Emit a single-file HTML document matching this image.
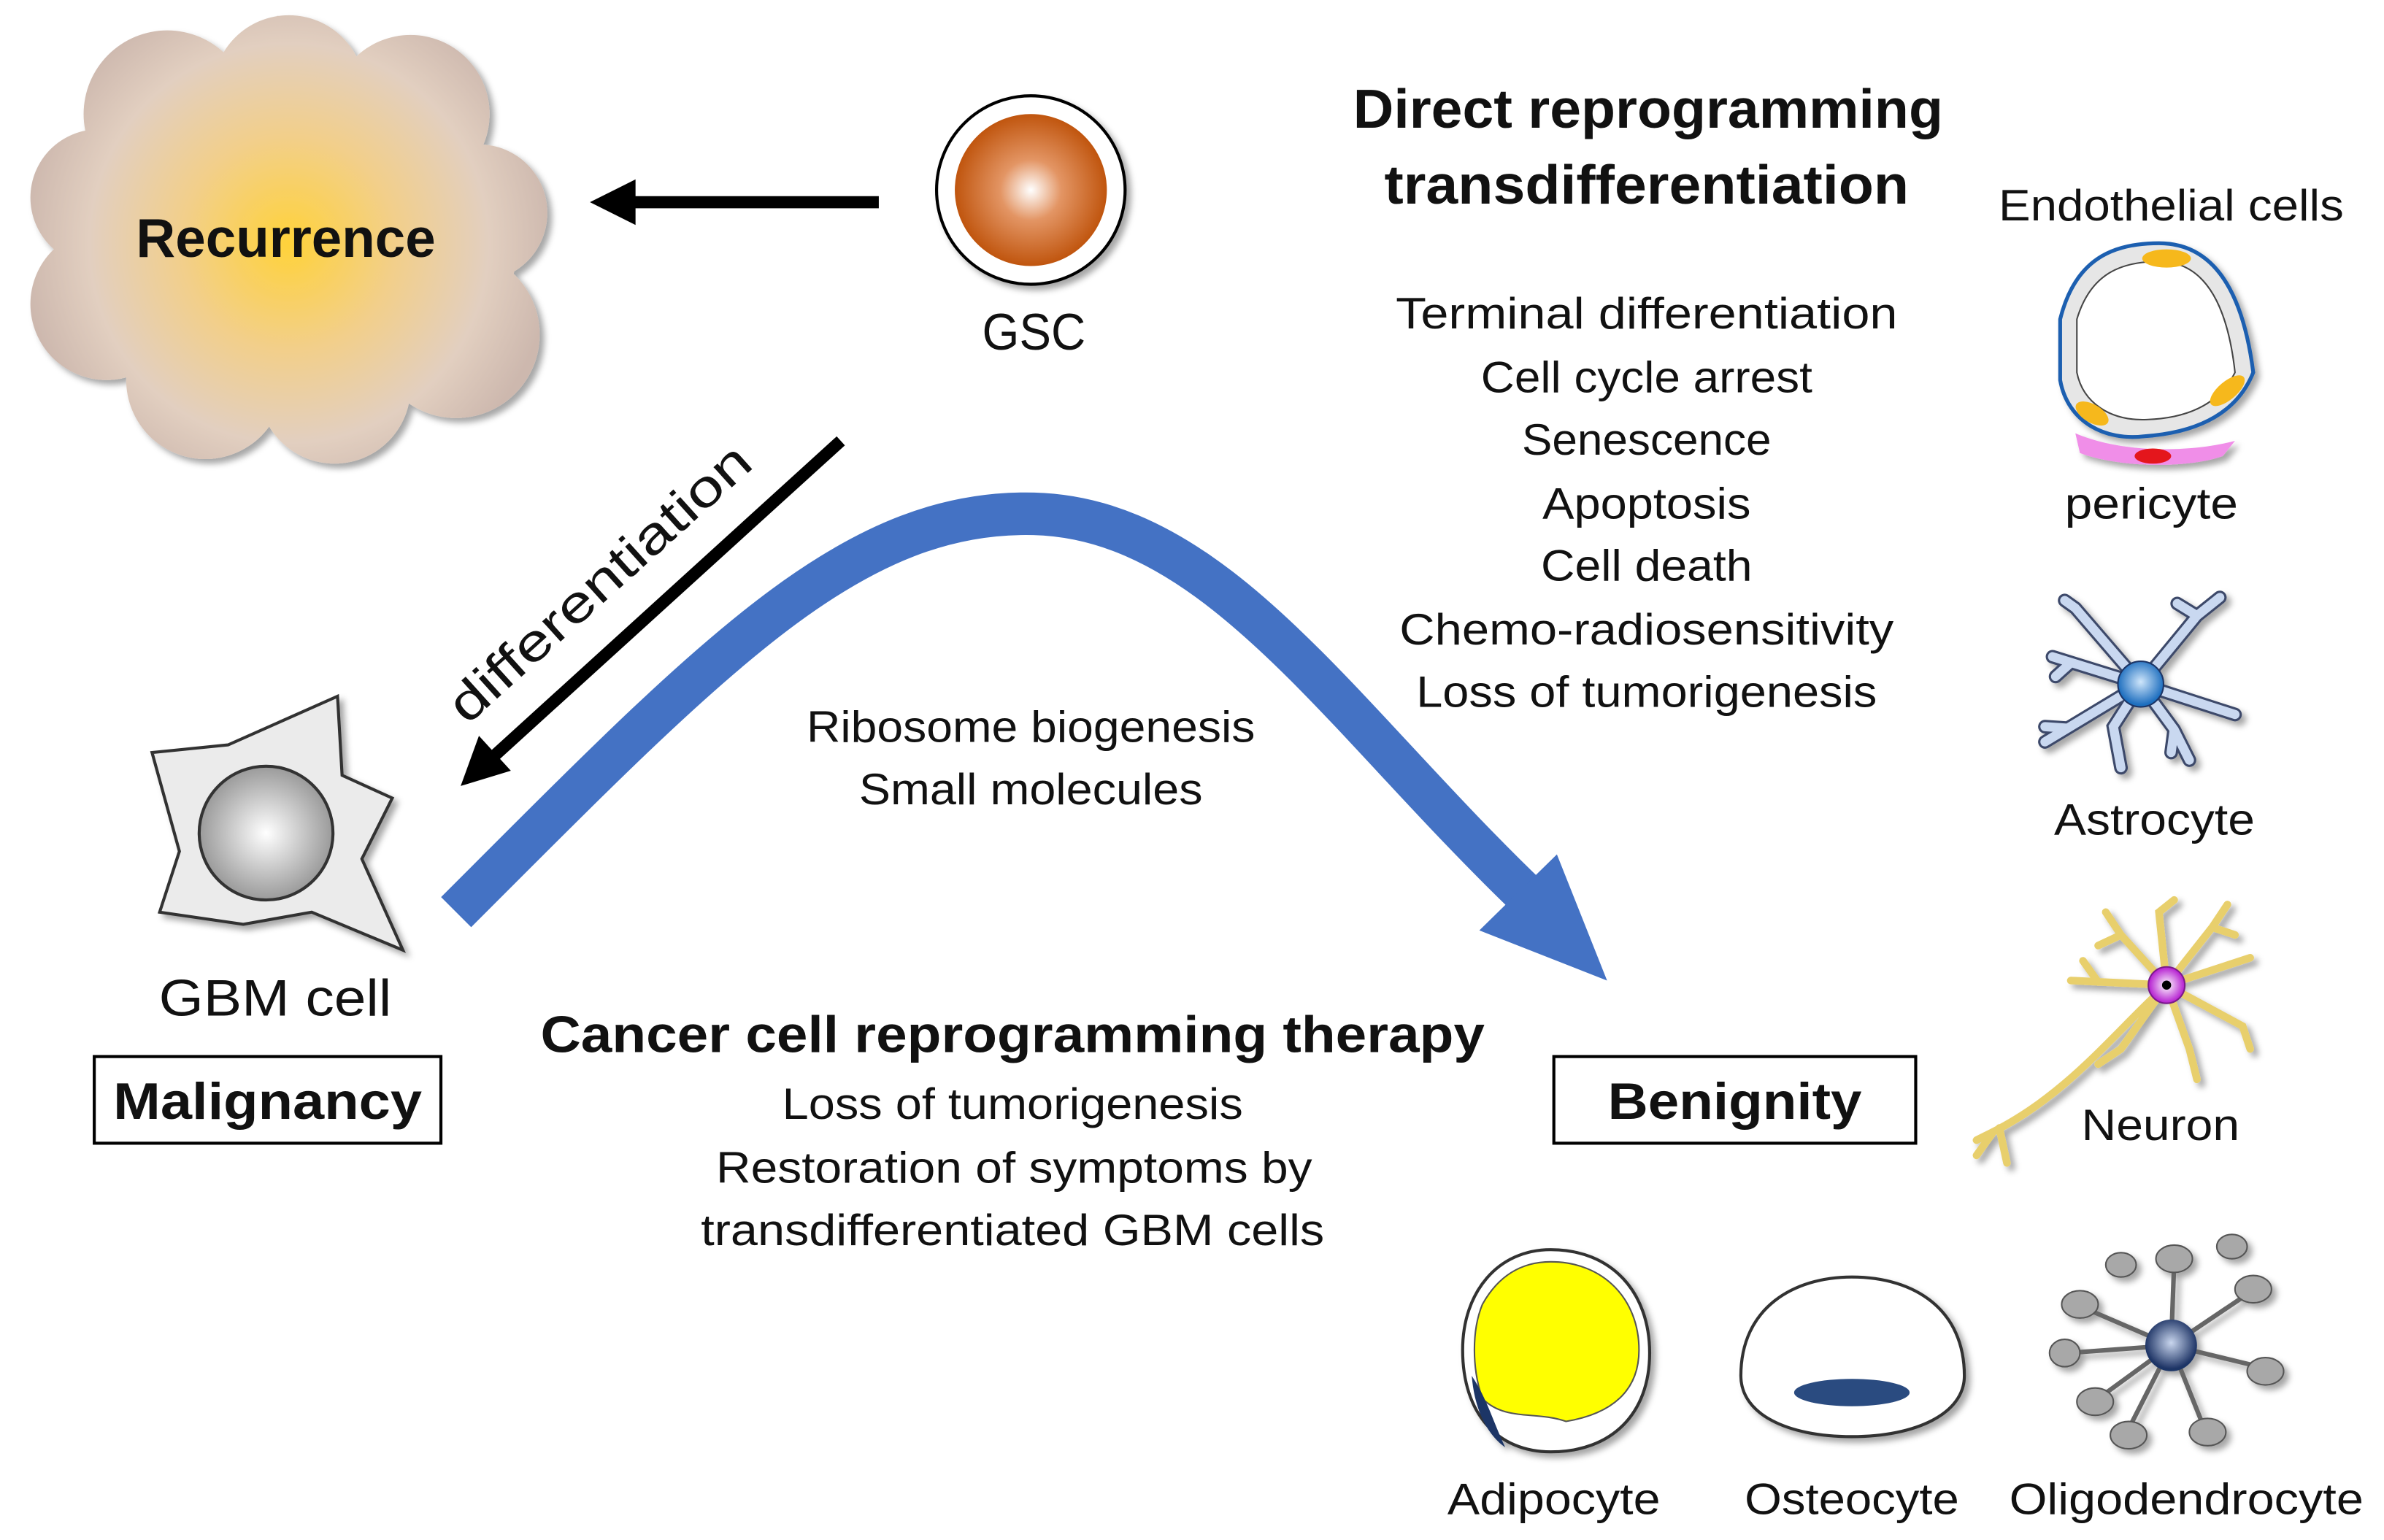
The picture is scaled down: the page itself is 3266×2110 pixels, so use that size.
<!DOCTYPE html>
<html><head><meta charset="utf-8"><style>
html,body{margin:0;padding:0;background:#fff;}
svg{display:block;}
text{font-family:"Liberation Sans","DejaVu Sans",sans-serif;fill:#111;}
.b{font-weight:bold;}
</style></head><body>
<svg width="3266" height="2110" viewBox="0 0 1568 1013" xmlns="http://www.w3.org/2000/svg">
<defs>
<radialGradient id="cl" cx="190" cy="160" r="175" gradientUnits="userSpaceOnUse">
<stop offset="0" stop-color="#ffd23a"/><stop offset="0.4" stop-color="#f2cf8a"/><stop offset="0.75" stop-color="#e2cfc0"/><stop offset="1" stop-color="#cdb8ae"/></radialGradient>
<radialGradient id="gs" cx="0.5" cy="0.5" r="0.5"><stop offset="0" stop-color="#fff"/><stop offset="0.4" stop-color="#e39564"/><stop offset="1" stop-color="#c0550e"/></radialGradient>
<radialGradient id="gb" cx="0.5" cy="0.5" r="0.5"><stop offset="0" stop-color="#fff"/><stop offset="1" stop-color="#9a9a9a"/></radialGradient>
<radialGradient id="bl" cx="0.5" cy="0.45" r="0.5"><stop offset="0" stop-color="#cfe6fb"/><stop offset="1" stop-color="#1f6fbf"/></radialGradient>
<radialGradient id="ob" cx="0.5" cy="0.45" r="0.5"><stop offset="0" stop-color="#c9d6ee"/><stop offset="1" stop-color="#1f3566"/></radialGradient>
<radialGradient id="pk" cx="0.5" cy="0.5" r="0.5"><stop offset="0" stop-color="#fff"/><stop offset="1" stop-color="#b41ad0"/></radialGradient>
<filter id="sh"><feDropShadow dx="3" dy="3" stdDeviation="2" flood-color="#000" flood-opacity="0.35"/></filter>
</defs>

<g fill="url(#cl)" filter="url(#sh)">
<circle cx="110" cy="75" r="55"/><circle cx="190" cy="60" r="50"/><circle cx="270" cy="75" r="52"/>
<circle cx="315" cy="140" r="45"/><circle cx="300" cy="220" r="55"/><circle cx="220" cy="255" r="50"/>
<circle cx="135" cy="250" r="52"/><circle cx="70" cy="200" r="50"/><circle cx="65" cy="130" r="45"/>
<ellipse cx="190" cy="160" rx="150" ry="120"/>
</g>
<text x="188" y="169" font-size="36" class="b" text-anchor="middle" textLength="197" lengthAdjust="spacingAndGlyphs">Recurrence</text>

<line x1="578" y1="133" x2="410" y2="133" stroke="#000" stroke-width="8"/>
<polygon points="388,133 418,118 418,148" fill="#000"/>

<circle cx="678" cy="125" r="62" fill="#fff" stroke="#000" stroke-width="2" filter="url(#sh)"/>
<circle cx="678" cy="125" r="50" fill="url(#gs)"/>
<text x="680" y="230" font-size="34" text-anchor="middle" textLength="68" lengthAdjust="spacingAndGlyphs">GSC</text>

<g text-anchor="middle" lengthAdjust="spacingAndGlyphs">
<text x="1084" y="84" font-size="36" class="b" textLength="388" lengthAdjust="spacingAndGlyphs">Direct reprogramming</text>
<text x="1083" y="134" font-size="36" class="b" textLength="345" lengthAdjust="spacingAndGlyphs">transdifferentiation</text>
</g>
<g font-size="29" text-anchor="middle">
<text x="1083" y="216" textLength="330" lengthAdjust="spacingAndGlyphs">Terminal differentiation</text>
<text x="1083" y="258" textLength="218" lengthAdjust="spacingAndGlyphs">Cell cycle arrest</text>
<text x="1083" y="299" textLength="164" lengthAdjust="spacingAndGlyphs">Senescence</text>
<text x="1083" y="341" textLength="137" lengthAdjust="spacingAndGlyphs">Apoptosis</text>
<text x="1083" y="382" textLength="139" lengthAdjust="spacingAndGlyphs">Cell death</text>
<text x="1083" y="424" textLength="325" lengthAdjust="spacingAndGlyphs">Chemo-radiosensitivity</text>
<text x="1083" y="465" textLength="303" lengthAdjust="spacingAndGlyphs">Loss of tumorigenesis</text>
<text x="678" y="488" textLength="295" lengthAdjust="spacingAndGlyphs">Ribosome biogenesis</text>
<text x="678" y="529" textLength="226" lengthAdjust="spacingAndGlyphs">Small molecules</text>
<text x="1428" y="145" textLength="227" lengthAdjust="spacingAndGlyphs">Endothelial cells</text>
<text x="1415" y="341" textLength="114" lengthAdjust="spacingAndGlyphs">pericyte</text>
<text x="1417" y="549" textLength="132" lengthAdjust="spacingAndGlyphs">Astrocyte</text>
<text x="1421" y="750" textLength="104" lengthAdjust="spacingAndGlyphs">Neuron</text>
<text x="1022" y="996" textLength="140" lengthAdjust="spacingAndGlyphs">Adipocyte</text>
<text x="1218" y="996" textLength="141" lengthAdjust="spacingAndGlyphs">Osteocyte</text>
<text x="1438" y="996" textLength="233" lengthAdjust="spacingAndGlyphs">Oligodendrocyte</text>
<text x="666" y="736" textLength="303" lengthAdjust="spacingAndGlyphs">Loss of tumorigenesis</text>
<text x="667" y="778" textLength="392" lengthAdjust="spacingAndGlyphs">Restoration of symptoms by</text>
<text x="666" y="819" textLength="410" lengthAdjust="spacingAndGlyphs">transdifferentiated GBM cells</text>
</g>

<line x1="553" y1="290" x2="322" y2="500" stroke="#000" stroke-width="8"/>
<polygon points="303,517 315,484 336,507" fill="#000"/>
<text x="402" y="392" font-size="34" text-anchor="middle" transform="rotate(-42 402 392)" textLength="255" lengthAdjust="spacingAndGlyphs">differentiation</text>

<path d="M300,600 C 470,430 560,335 680,338 C 800,341 880,470 1005,590" fill="none" stroke="#4472C4" stroke-width="28"/>
<polygon points="1057,645 1024,562 973,612" fill="#4472C4"/>

<path d="M100,495 L150,490 L222,458 L225,510 L258,525 L238,565 L265,625 L205,600 L160,608 L105,600 L118,560 Z" fill="#ebebeb" stroke="#333" stroke-width="2" filter="url(#sh)"/>
<circle cx="175" cy="548" r="44" fill="url(#gb)" stroke="#333" stroke-width="2"/>
<text x="181" y="668" font-size="34" text-anchor="middle" textLength="153" lengthAdjust="spacingAndGlyphs">GBM cell</text>

<rect x="62" y="695" width="228" height="57" fill="#fff" stroke="#000" stroke-width="2"/>
<text x="176" y="736" font-size="34" class="b" text-anchor="middle" textLength="203" lengthAdjust="spacingAndGlyphs">Malignancy</text>
<rect x="1022" y="695" width="238" height="57" fill="#fff" stroke="#000" stroke-width="2"/>
<text x="1141" y="736" font-size="34" class="b" text-anchor="middle" textLength="167" lengthAdjust="spacingAndGlyphs">Benignity</text>
<text x="666" y="692" font-size="34" class="b" text-anchor="middle" textLength="621" lengthAdjust="spacingAndGlyphs">Cancer cell reprogramming therapy</text>

<g filter="url(#sh)">
<path d="M1365,285 C1395,298 1440,298 1470,290 L1462,300 C1440,308 1395,308 1368,298 Z" fill="#f08ee8"/>
<path d="M1355,210 C1365,170 1390,160 1420,160 C1455,160 1475,190 1482,245 C1470,275 1440,285 1410,287 C1385,290 1360,278 1355,250 Z" fill="#e6e6e6" stroke="#1f5fb0" stroke-width="2.5"/>
<path d="M1366,210 C1375,180 1395,172 1420,172 C1450,172 1465,200 1470,245 C1460,265 1440,275 1412,276 C1388,277 1370,265 1366,245 Z" fill="#fff" stroke="#444" stroke-width="1"/>
<ellipse cx="1425" cy="170" rx="16" ry="6" fill="#f6b81a"/>
<ellipse cx="1465" cy="257" rx="14" ry="6" fill="#f6b81a" transform="rotate(-40 1465 257)"/>
<ellipse cx="1376" cy="272" rx="12" ry="6" fill="#f6b81a" transform="rotate(30 1376 272)"/>
<ellipse cx="1416" cy="300" rx="12" ry="5" fill="#e4141c"/>
</g>

<g filter="url(#sh)">
<g fill="none" stroke-linecap="round">
<g stroke="#3c4a6a" stroke-width="9">
<path d="M1408,450 L1365,400 L1358,395"/><path d="M1408,450 L1445,405 L1460,393 M1445,405 L1432,397"/>
<path d="M1408,450 L1350,432 M1362,436 L1352,445"/><path d="M1408,450 L1470,470"/>
<path d="M1408,450 L1345,488 M1360,479 L1345,478"/><path d="M1408,450 L1430,480 L1440,500 M1430,480 L1428,495"/>
<path d="M1408,450 L1390,478 L1395,505"/>
</g>
<g stroke="#c9d8f0" stroke-width="6">
<path d="M1408,450 L1365,400 L1358,395"/><path d="M1408,450 L1445,405 L1460,393 M1445,405 L1432,397"/>
<path d="M1408,450 L1350,432 M1362,436 L1352,445"/><path d="M1408,450 L1470,470"/>
<path d="M1408,450 L1345,488 M1360,479 L1345,478"/><path d="M1408,450 L1430,480 L1440,500 M1430,480 L1428,495"/>
<path d="M1408,450 L1390,478 L1395,505"/>
</g>
</g>
<circle cx="1408" cy="450" r="15" fill="url(#bl)" stroke="#1f3566"/>
</g>

<g fill="none" stroke="#e8cf6c" stroke-width="5" stroke-linecap="round" filter="url(#sh)">
<path d="M1425,648 C1390,680 1360,720 1310,745 L1300,750 M1315,742 L1320,765 M1310,746 L1300,760"/>
<path d="M1425,648 L1395,615 L1385,600 M1395,615 L1380,622"/><path d="M1425,648 L1420,600 L1430,592"/>
<path d="M1425,648 L1455,610 L1465,595 M1455,610 L1470,615"/><path d="M1425,648 L1480,630"/>
<path d="M1425,648 L1475,675 L1480,690"/><path d="M1425,648 L1440,690 L1445,710"/>
<path d="M1425,648 L1395,690 L1380,700"/><path d="M1425,648 L1362,645 M1380,646 L1370,632"/>
</g>
<circle cx="1425" cy="648" r="12" fill="url(#pk)" stroke="#7a1a8a"/>
<circle cx="1425" cy="648" r="3" fill="#000"/>

<g filter="url(#sh)">
<path d="M1020,822 C1060,822 1085,850 1085,890 C1085,930 1060,955 1020,955 C985,955 962,930 962,888 C962,850 985,822 1020,822 Z" fill="#fff" stroke="#333" stroke-width="2"/>
<path d="M1020,830 C1055,830 1078,855 1078,888 C1078,915 1060,930 1030,935 C1010,928 990,935 975,920 C968,900 968,875 975,858 C985,840 1000,830 1020,830 Z" fill="#ffff00" stroke="#555" stroke-width="1"/>
<path d="M968,905 C970,930 980,945 990,952 C982,935 978,920 968,905 Z" fill="#1f3566"/>
</g>

<g filter="url(#sh)">
<path d="M1145,905 C1145,860 1180,840 1218,840 C1260,840 1292,862 1292,905 C1292,930 1260,945 1218,945 C1175,945 1145,930 1145,905 Z" fill="#fff" stroke="#333" stroke-width="2"/>
<ellipse cx="1218" cy="916" rx="38" ry="9" fill="#2c4b80"/>
</g>

<g filter="url(#sh)">
<g stroke="#666" stroke-width="3" fill="none">
<path d="M1428,885 L1370,860 M1428,885 L1380,920 M1428,885 L1430,830 M1428,885 L1480,850 M1428,885 L1490,900 M1428,885 L1450,940 M1428,885 L1400,940 M1428,885 L1360,890"/>
</g>
<g fill="#a8a8a8" stroke="#555" stroke-width="1">
<ellipse cx="1368" cy="858" rx="12" ry="9"/><ellipse cx="1378" cy="922" rx="12" ry="9"/><ellipse cx="1430" cy="828" rx="12" ry="9"/>
<ellipse cx="1482" cy="848" rx="12" ry="9"/><ellipse cx="1490" cy="902" rx="12" ry="9"/><ellipse cx="1452" cy="942" rx="12" ry="9"/>
<ellipse cx="1400" cy="944" rx="12" ry="9"/><ellipse cx="1358" cy="890" rx="10" ry="9"/><ellipse cx="1395" cy="832" rx="10" ry="8"/><ellipse cx="1468" cy="820" rx="10" ry="8"/>
</g>
<circle cx="1428" cy="885" r="17" fill="url(#ob)"/>
</g>
</svg>
</body></html>
